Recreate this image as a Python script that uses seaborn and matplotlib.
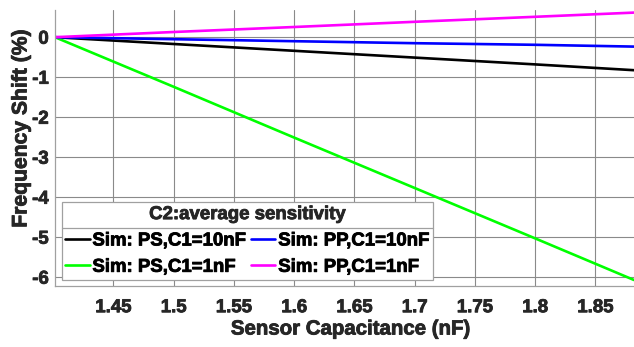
import matplotlib
matplotlib.use("Agg")
import matplotlib.pyplot as plt
import matplotlib.patheffects as pe
import seaborn as sns
import pandas as pd
from matplotlib.lines import Line2D

# ---- data ----
cap_nf = [1.4015, 1.5, 1.6, 1.7, 1.8, 1.882]
ps_c1_10nf = [0.0, -0.17, -0.34, -0.51, -0.68, -0.825]
pp_c1_10nf = [0.0, -0.05, -0.10, -0.15, -0.19, -0.235]
ps_c1_1nf = [0.0, -1.24, -2.51, -3.77, -5.03, -6.07]
pp_c1_1nf = [0.0, 0.13, 0.255, 0.385, 0.51, 0.615]

series_names = ["Sim: PS,C1=10nF", "Sim: PS,C1=1nF", "Sim: PP,C1=10nF", "Sim: PP,C1=1nF"]
series_values = [ps_c1_10nf, ps_c1_1nf, pp_c1_10nf, pp_c1_1nf]
series_colors = ["#000000", "#00ff00", "#0000ff", "#ff00ff"]

x_ticks = [1.45, 1.5, 1.55, 1.6, 1.65, 1.7, 1.75, 1.8, 1.85]
x_tick_labels = ["1.45", "1.5", "1.55", "1.6", "1.65", "1.7", "1.75", "1.8", "1.85"]
y_ticks = [0, -1, -2, -3, -4, -5, -6]
y_tick_labels = ["0", "-1", "-2", "-3", "-4", "-5", "-6"]

rows = []
for name, vals in zip(series_names, series_values):
    for x, y in zip(cap_nf, vals):
        rows.append({"cap": x, "shift": y, "series": name})
df = pd.DataFrame(rows)

sns.set_style("white")
plt.rcParams["font.family"] = ["Liberation Sans", "DejaVu Sans"]
plt.rcParams["font.weight"] = "bold"

W, H = 634, 347
fig = plt.figure(figsize=(W / 100, H / 100), dpi=100)
ax_l, ax_r, ax_t, ax_b = 55, 634, 10, 286
ax = fig.add_axes([ax_l / W, (H - ax_b) / H, (ax_r - ax_l) / W, (ax_b - ax_t) / H])

palette = dict(zip(series_names, series_colors))
sns.lineplot(data=df, x="cap", y="shift", hue="series", palette=palette,
             hue_order=series_names, linewidth=1.9, ax=ax, legend=False)

ax.set_xlim(1.4015, 1.882)
ax.set_ylim(-6.22, 0.68)
ax.set_xticks(x_ticks)
ax.set_xticklabels(x_tick_labels)
ax.set_yticks(y_ticks)
ax.set_yticklabels(y_tick_labels)

txt = "#262626"
ax.tick_params(axis="both", length=0, labelsize=13.4, colors=txt)
ax.tick_params(axis="x", pad=9.5)
ax.tick_params(axis="y", pad=4.5)

def thicken(t, color):
    t.set_path_effects([pe.withStroke(linewidth=0.6, foreground=color)])

for lab in ax.get_xticklabels() + ax.get_yticklabels():
    lab.set_fontweight("bold")
    thicken(lab, txt)

ax.grid(True, color="#8a8a8a", linewidth=0.8)
ax.set_axisbelow(True)
for s in ["top", "right"]:
    ax.spines[s].set_visible(False)
for s in ["left", "bottom"]:
    ax.spines[s].set_color("#a0a0a0")
    ax.spines[s].set_linewidth(0.9)

ax.set_xlabel("Sensor Capacitance (nF)", fontsize=14.7, fontweight="bold", color=txt)
ax.set_ylabel("Frequency Shift (%)", fontsize=15.2, fontweight="bold", color=txt)
thicken(ax.xaxis.label, txt)
thicken(ax.yaxis.label, txt)
ax.xaxis.set_label_coords((350 - ax_l) / (ax_r - ax_l), -(329 - ax_b) / (ax_b - ax_t), transform=ax.transAxes)
ax.yaxis.set_label_coords(-(55 - 21) / (ax_r - ax_l), (ax_b - 128.5) / (ax_b - ax_t), transform=ax.transAxes)
ax.xaxis.label.set_va("center")
ax.yaxis.label.set_va("center")

handles = [Line2D([], [], color=c, linewidth=1.9) for c in series_colors]
leg = ax.legend(handles, series_names, ncol=2, loc="lower left",
                bbox_to_anchor=((61.7 - ax_l) / (ax_r - ax_l), (ax_b - 279.5) / (ax_b - ax_t)),
                borderaxespad=0, fancybox=False, framealpha=1, edgecolor="#a0a0a0",
                prop={"weight": "bold", "size": 13.4},
                title="C2:average sensitivity",
                title_fontproperties={"weight": "bold", "size": 13.4},
                handlelength=1.3, handletextpad=0.15, columnspacing=0.3,
                labelspacing=0.5, borderpad=0.2)
leg.get_frame().set_linewidth(0.9)
for t in leg.get_texts():
    t.set_color("#000000")
    thicken(t, "#000000")
leg.get_title().set_color(txt)
thicken(leg.get_title(), txt)

fig.canvas.draw()
renderer = fig.canvas.get_renderer()
bb = leg.get_window_extent()
title_bb = leg.get_title().get_window_extent()
hb = leg._legend_handle_box.get_window_extent(renderer)
sep_y = ((title_bb.y0 + hb.y1) / 2) / H
fig.add_artist(Line2D([bb.x0 / W, bb.x1 / W], [sep_y, sep_y], color="#a0a0a0",
                      linewidth=0.9, transform=fig.transFigure))

fig.savefig("out.png", dpi=100)
